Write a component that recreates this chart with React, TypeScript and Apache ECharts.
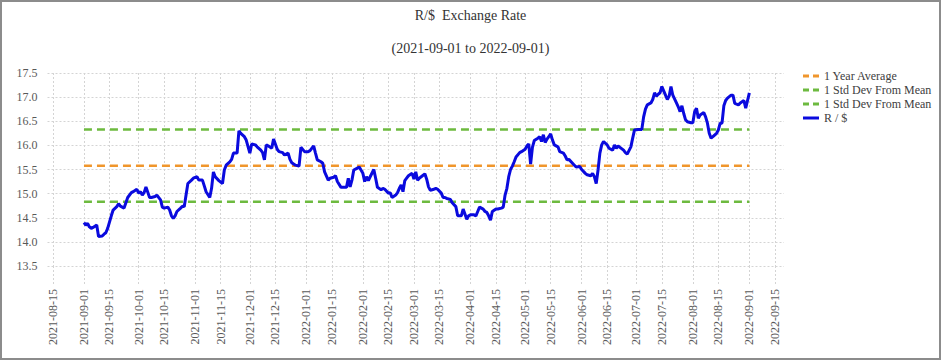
import React, { useEffect, useRef } from "react";
import * as echarts from "echarts";

// ---- Data ----
const titleText = "R/$  Exchange Rate";
const subtitleText = "(2021-09-01 to 2022-09-01)";

const axisStart = "2021-08-12";
const axisEnd = "2022-09-20";

const yTicks = { min: 13.5, max: 17.5, step: 0.5 };

const meanValue = 15.58;
const upperStd = 16.33;
const lowerStd = 14.83;
const bandStart = "2021-09-01";
const bandEnd = "2022-09-01";

const seriesNames = ["1 Year Average", "1 Std Dev From Mean", "1 Std Dev From Mean ", "R / $"];

const rateData: [string, number][] = [
  ["2021-09-01", 14.40], ["2021-09-02", 14.35], ["2021-09-03", 14.38], ["2021-09-04", 14.31],
  ["2021-09-05", 14.28], ["2021-09-06", 14.30], ["2021-09-08", 14.35], ["2021-09-09", 14.11],
  ["2021-09-11", 14.12], ["2021-09-12", 14.16], ["2021-09-13", 14.19], ["2021-09-14", 14.28],
  ["2021-09-16", 14.54], ["2021-09-17", 14.66], ["2021-09-19", 14.73], ["2021-09-20", 14.79],
  ["2021-09-21", 14.74], ["2021-09-23", 14.70], ["2021-09-24", 14.81], ["2021-09-25", 14.92],
  ["2021-09-27", 15.02], ["2021-09-28", 15.04], ["2021-09-30", 15.09], ["2021-10-01", 15.01],
  ["2021-10-02", 15.04], ["2021-10-03", 14.97], ["2021-10-04", 15.02], ["2021-10-05", 15.14],
  ["2021-10-07", 14.92], ["2021-10-08", 14.92], ["2021-10-10", 14.94], ["2021-10-11", 14.97],
  ["2021-10-13", 14.87], ["2021-10-14", 14.72], ["2021-10-15", 14.70], ["2021-10-17", 14.72],
  ["2021-10-18", 14.66], ["2021-10-19", 14.54], ["2021-10-20", 14.49], ["2021-10-21", 14.54],
  ["2021-10-22", 14.63], ["2021-10-24", 14.70], ["2021-10-25", 14.74], ["2021-10-26", 14.73],
  ["2021-10-27", 14.97], ["2021-10-28", 15.21], ["2021-10-30", 15.28], ["2021-10-31", 15.32],
  ["2021-11-02", 15.35], ["2021-11-03", 15.28], ["2021-11-05", 15.28], ["2021-11-06", 15.16],
  ["2021-11-07", 15.04], ["2021-11-09", 14.92], ["2021-11-10", 15.11], ["2021-11-11", 15.45],
  ["2021-11-12", 15.35], ["2021-11-14", 15.27], ["2021-11-16", 15.21], ["2021-11-17", 15.49],
  ["2021-11-18", 15.59], ["2021-11-20", 15.66], ["2021-11-21", 15.71], ["2021-11-22", 15.84],
  ["2021-11-24", 15.84], ["2021-11-25", 16.30], ["2021-11-26", 16.25], ["2021-11-28", 16.18],
  ["2021-11-29", 16.11], ["2021-12-01", 15.84], ["2021-12-02", 16.03], ["2021-12-04", 16.01],
  ["2021-12-05", 15.97], ["2021-12-07", 15.90], ["2021-12-08", 15.85], ["2021-12-09", 15.70],
  ["2021-12-10", 16.01], ["2021-12-11", 15.99], ["2021-12-13", 15.94], ["2021-12-14", 16.13],
  ["2021-12-16", 15.92], ["2021-12-17", 15.87], ["2021-12-19", 15.85], ["2021-12-20", 15.80],
  ["2021-12-22", 15.84], ["2021-12-23", 15.71], ["2021-12-24", 15.64], ["2021-12-26", 15.59],
  ["2021-12-28", 15.57], ["2021-12-29", 15.96], ["2021-12-31", 15.87], ["2022-01-02", 15.87],
  ["2022-01-03", 15.89], ["2022-01-05", 15.99], ["2022-01-06", 15.84], ["2022-01-07", 15.70],
  ["2022-01-09", 15.66], ["2022-01-10", 15.63], ["2022-01-11", 15.45], ["2022-01-13", 15.28],
  ["2022-01-14", 15.32], ["2022-01-16", 15.34], ["2022-01-17", 15.37], ["2022-01-18", 15.25],
  ["2022-01-20", 15.13], ["2022-01-21", 15.13], ["2022-01-23", 15.13], ["2022-01-24", 15.32],
  ["2022-01-25", 15.14], ["2022-01-26", 15.28], ["2022-01-27", 15.49], ["2022-01-29", 15.53],
  ["2022-01-30", 15.55], ["2022-02-01", 15.42], ["2022-02-02", 15.25], ["2022-02-03", 15.35],
  ["2022-02-04", 15.27], ["2022-02-05", 15.35], ["2022-02-07", 15.50], ["2022-02-08", 15.32],
  ["2022-02-09", 15.13], ["2022-02-11", 15.08], ["2022-02-12", 15.11], ["2022-02-13", 15.09],
  ["2022-02-15", 15.01], ["2022-02-16", 15.02], ["2022-02-17", 14.92], ["2022-02-19", 14.97],
  ["2022-02-20", 15.02], ["2022-02-21", 15.11], ["2022-02-22", 15.18], ["2022-02-23", 15.04],
  ["2022-02-24", 15.27], ["2022-02-25", 15.32], ["2022-02-26", 15.37], ["2022-02-28", 15.42],
  ["2022-03-01", 15.30], ["2022-03-02", 15.45], ["2022-03-03", 15.28], ["2022-03-04", 15.32],
  ["2022-03-05", 15.35], ["2022-03-07", 15.41], ["2022-03-08", 15.30], ["2022-03-09", 15.14],
  ["2022-03-10", 15.07], ["2022-03-12", 15.09], ["2022-03-13", 15.11], ["2022-03-14", 15.09],
  ["2022-03-16", 15.01], ["2022-03-17", 14.92], ["2022-03-18", 14.92], ["2022-03-19", 14.90],
  ["2022-03-21", 14.88], ["2022-03-22", 14.81], ["2022-03-24", 14.73], ["2022-03-25", 14.54],
  ["2022-03-26", 14.54], ["2022-03-27", 14.54], ["2022-03-28", 14.68], ["2022-03-30", 14.47],
  ["2022-03-31", 14.54], ["2022-04-01", 14.56], ["2022-04-03", 14.56], ["2022-04-04", 14.54],
  ["2022-04-05", 14.63], ["2022-04-06", 14.72], ["2022-04-08", 14.68], ["2022-04-09", 14.63],
  ["2022-04-10", 14.61], ["2022-04-11", 14.54], ["2022-04-12", 14.45], ["2022-04-13", 14.63],
  ["2022-04-15", 14.68], ["2022-04-16", 14.68], ["2022-04-18", 14.70], ["2022-04-19", 14.72],
  ["2022-04-20", 14.97], ["2022-04-21", 15.11], ["2022-04-22", 15.35], ["2022-04-23", 15.50],
  ["2022-04-24", 15.57], ["2022-04-25", 15.66], ["2022-04-26", 15.76], ["2022-04-28", 15.85],
  ["2022-04-29", 15.87], ["2022-05-01", 15.92], ["2022-05-02", 15.99], ["2022-05-03", 16.03],
  ["2022-05-04", 15.61], ["2022-05-05", 15.96], ["2022-05-06", 16.10], ["2022-05-08", 16.15],
  ["2022-05-09", 16.18], ["2022-05-10", 16.08], ["2022-05-11", 16.22], ["2022-05-12", 16.06],
  ["2022-05-13", 16.13], ["2022-05-14", 16.18], ["2022-05-15", 16.24], ["2022-05-16", 16.11],
  ["2022-05-17", 16.01], ["2022-05-19", 15.97], ["2022-05-20", 15.87], ["2022-05-22", 15.84],
  ["2022-05-23", 15.78], ["2022-05-24", 15.70], ["2022-05-25", 15.71], ["2022-05-27", 15.63],
  ["2022-05-28", 15.59], ["2022-05-29", 15.55], ["2022-05-31", 15.56], ["2022-06-01", 15.50],
  ["2022-06-03", 15.42], ["2022-06-04", 15.39], ["2022-06-06", 15.37], ["2022-06-07", 15.42],
  ["2022-06-08", 15.35], ["2022-06-09", 15.21], ["2022-06-10", 15.49], ["2022-06-11", 15.84],
  ["2022-06-12", 16.01], ["2022-06-13", 16.08], ["2022-06-15", 16.01], ["2022-06-16", 15.94],
  ["2022-06-18", 15.90], ["2022-06-19", 16.01], ["2022-06-20", 15.94], ["2022-06-21", 15.99],
  ["2022-06-22", 15.96], ["2022-06-24", 15.90], ["2022-06-25", 15.85], ["2022-06-26", 15.82],
  ["2022-06-28", 15.97], ["2022-06-29", 16.15], ["2022-06-30", 16.32], ["2022-07-02", 16.33],
  ["2022-07-03", 16.33], ["2022-07-04", 16.33], ["2022-07-05", 16.59], ["2022-07-06", 16.75],
  ["2022-07-07", 16.84], ["2022-07-09", 16.88], ["2022-07-10", 16.95], ["2022-07-11", 17.09],
  ["2022-07-12", 17.02], ["2022-07-13", 17.06], ["2022-07-14", 17.09], ["2022-07-15", 17.22],
  ["2022-07-16", 17.13], ["2022-07-17", 17.04], ["2022-07-18", 16.95], ["2022-07-19", 17.02],
  ["2022-07-20", 17.22], ["2022-07-21", 17.04], ["2022-07-23", 16.88], ["2022-07-24", 16.80],
  ["2022-07-25", 16.70], ["2022-07-26", 16.82], ["2022-07-27", 16.66], ["2022-07-28", 16.53],
  ["2022-07-29", 16.49], ["2022-07-31", 16.47], ["2022-08-01", 16.47], ["2022-08-02", 16.70],
  ["2022-08-03", 16.77], ["2022-08-04", 16.56], ["2022-08-05", 16.63], ["2022-08-07", 16.68],
  ["2022-08-08", 16.59], ["2022-08-09", 16.46], ["2022-08-10", 16.25], ["2022-08-11", 16.15],
  ["2022-08-12", 16.18], ["2022-08-14", 16.25], ["2022-08-15", 16.32], ["2022-08-16", 16.46],
  ["2022-08-17", 16.46], ["2022-08-18", 16.82], ["2022-08-19", 16.93], ["2022-08-20", 16.98],
  ["2022-08-22", 17.04], ["2022-08-23", 17.04], ["2022-08-24", 16.87], ["2022-08-26", 16.84],
  ["2022-08-27", 16.88], ["2022-08-29", 16.93], ["2022-08-30", 16.77], ["2022-09-01", 17.09],
];

const colors = {
  mean: "#F0962C",
  std: "#6DBA3F",
  rate: "#0A0ADE",
  grid: "#D4D4D4",
  text: "#595959",
  title: "#333333",
};

const dashIcon = "path://M0,0h6v3h-6z M10,0h6v3h-6z";
const solidIcon = "path://M0,0h16v3h-16z";

function buildDays(start: string, end: string): string[] {
  const out: string[] = [];
  let t = Date.parse(start + "T00:00:00Z");
  const e = Date.parse(end + "T00:00:00Z");
  while (t <= e) {
    out.push(new Date(t).toISOString().slice(0, 10));
    t += 86400000;
  }
  return out;
}

const isTickDay = (d: string) => d.endsWith("-01") || d.endsWith("-15");

export default function App() {
  const ref = useRef<HTMLDivElement>(null);

  useEffect(() => {
    if (!ref.current) return;
    const chart = echarts.init(ref.current, undefined, { renderer: "svg" });
    const days = buildDays(axisStart, axisEnd);
    const font = "Liberation Serif";
    const tickFilter = (_i: number, v: string) => isTickDay(v);

    const flatLine = (name: string, v: number, color: string) => ({
      name,
      type: "line",
      data: [
        [bandStart, v],
        [bandEnd, v],
      ],
      symbol: "none",
      lineStyle: { color, width: 2.5, type: [8, 5] },
      itemStyle: { color },
      z: 2,
    });

    chart.setOption({
      animation: false,
      backgroundColor: "#ffffff",
      title: [
        {
          text: titleText,
          left: "center",
          top: 3,
          textStyle: { fontFamily: font, fontSize: 14, fontWeight: "normal", color: colors.title },
        },
        {
          text: subtitleText,
          left: "center",
          top: 36,
          textStyle: { fontFamily: font, fontSize: 14, fontWeight: "normal", color: colors.title },
        },
      ],
      legend: {
        orient: "vertical",
        left: 803,
        top: 70,
        padding: 0,
        itemWidth: 16,
        itemHeight: 3,
        itemGap: 2,
        symbolKeepAspect: false,
        formatter: (n: string) => n.trim(),
        textStyle: { fontFamily: font, fontSize: 12, color: "#404040" },
        data: [
          { name: seriesNames[0], icon: dashIcon, itemStyle: { color: colors.mean } },
          { name: seriesNames[1], icon: dashIcon, itemStyle: { color: colors.std } },
          { name: seriesNames[2], icon: dashIcon, itemStyle: { color: colors.std } },
          { name: seriesNames[3], icon: solidIcon, itemStyle: { color: colors.rate } },
        ],
      },
      graphic: [
        {
          type: "rect",
          shape: { x: 1, y: 1, width: 939, height: 358 },
          style: { fill: "none", stroke: "#8C8C8C", lineWidth: 2 },
          silent: true,
        },
      ],
      grid: { left: 47.5, top: 73, width: 736.5, height: 193 },
      xAxis: {
        type: "category",
        data: days,
        boundaryGap: false,
        axisLine: { show: false },
        axisTick: {
          show: true,
          interval: tickFilter,
          length: 20,
          lineStyle: { color: colors.grid, type: [2, 2], width: 1 },
        },
        splitLine: {
          show: true,
          interval: tickFilter,
          lineStyle: { color: colors.grid, type: [2, 2], width: 1 },
        },
        axisLabel: {
          interval: tickFilter,
          rotate: 90,
          margin: 23,
          fontFamily: font,
          fontSize: 12,
          color: colors.text,
        },
      },
      yAxis: {
        type: "value",
        min: yTicks.min,
        max: yTicks.max,
        interval: yTicks.step,
        axisLine: { show: false },
        axisTick: { show: false },
        splitLine: { lineStyle: { color: colors.grid, type: [2, 2], width: 1 } },
        axisLabel: {
          margin: 10,
          fontFamily: font,
          fontSize: 12,
          color: colors.text,
          formatter: (v: number) => v.toFixed(1),
        },
      },
      series: [
        flatLine(seriesNames[0], meanValue, colors.mean),
        flatLine(seriesNames[1], upperStd, colors.std),
        flatLine(seriesNames[2], lowerStd, colors.std),
        {
          name: seriesNames[3],
          type: "line",
          data: rateData,
          symbol: "none",
          lineStyle: { color: colors.rate, width: 3 },
          itemStyle: { color: colors.rate },
          z: 3,
        },
      ],
    });
    return () => chart.dispose();
  }, []);

  return (
    <div
      ref={ref}
      style={{ position: "fixed", left: 0, top: 0, width: 941, height: 360, background: "#fff" }}
    />
  );
}
